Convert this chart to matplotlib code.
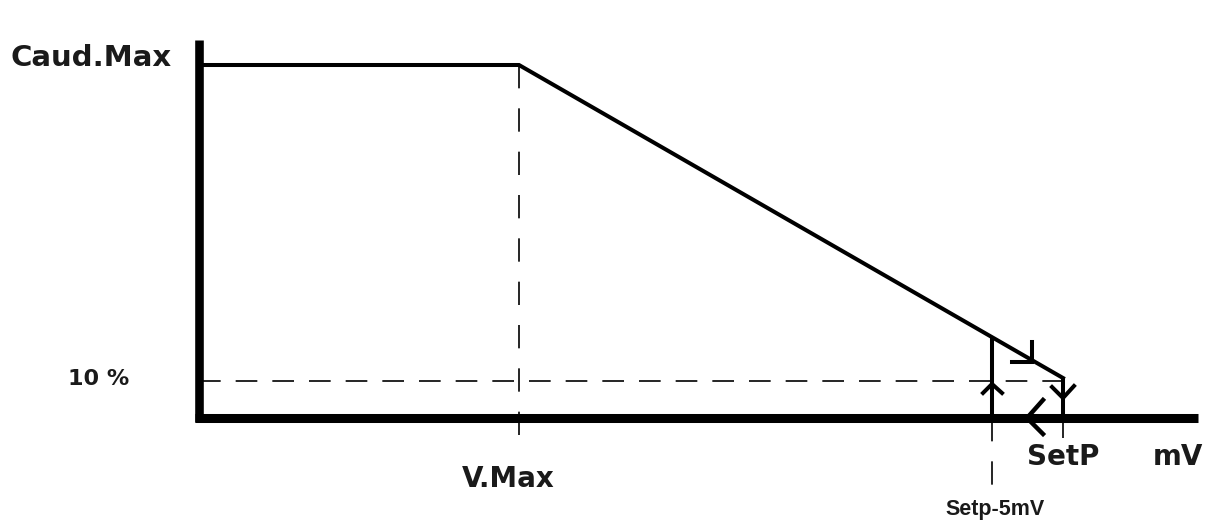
import matplotlib.pyplot as plt

# positions in picture units (x right, y down)
x_origin = 199
y_base = 418
y_axis_top = 40
x_axis_end = 1198

caud_max_y = 65
v_max_x = 519
ten_pct_y = 381
setp_x = 1063
setp5_x = 992

curve_x = [x_origin, v_max_x, setp_x]
curve_y = [caud_max_y, caud_max_y, 378]

labels = ["Caud.Max", "10 %", "V.Max", "SetP", "mV"]
label_x = [10, 68, 462, 1027, 1153]
label_y = [66, 385, 487, 465, 465]
label_size = [21, 16, 20, 20, 20]

fig = plt.figure(figsize=(12.05, 5.22), dpi=100)
ax = fig.add_axes([0, 0, 1, 1])
ax.set_xlim(0, 1205)
ax.set_ylim(522, 0)
ax.axis('off')

hdash = (0, (13, 9))
vdash = (0, (14, 12))

# dashed guides
ax.plot([v_max_x, v_max_x], [caud_max_y, 440], color='black', lw=1.2, linestyle=vdash)
ax.plot([x_origin, setp_x], [ten_pct_y, ten_pct_y], color='black', lw=1.2, linestyle=hdash)
ax.plot([setp5_x, setp5_x], [y_base, 495], color='black', lw=1.2, linestyle=vdash)
ax.plot([setp_x, setp_x], [y_base, 438], color='black', lw=1.2, linestyle=vdash)

# axes
ax.plot([x_origin, x_origin], [y_axis_top, y_base + 4], color='black', lw=6.2, solid_capstyle='butt')
ax.plot([x_origin - 4, x_axis_end], [y_base, y_base], color='black', lw=6.5, solid_capstyle='butt')

# curve
ax.plot(curve_x, curve_y, color='black', lw=2.9, solid_joinstyle='miter')

# hysteresis
ax.plot([setp5_x, setp5_x], [337, y_base], color='black', lw=2.9, solid_capstyle='butt')
ax.plot([setp_x, setp_x], [378, y_base], color='black', lw=2.9, solid_capstyle='butt')

# arrow strokes
ax.plot([1032, 1032, 1012], [342, 362, 362], color='black', lw=2.9, solid_joinstyle='miter')
ax.plot([983, setp5_x, 1002], [393, 384, 393], color='black', lw=2.9)
ax.plot([1052, setp_x, 1074], [387, 398, 386], color='black', lw=2.9)
ax.plot([1043, 1027, 1043], [400, y_base, 434], color='black', lw=3.2)

for t, x, y, s in zip(labels, label_x, label_y, label_size):
    ax.text(x, y, t, fontsize=s, fontweight='bold', family='DejaVu Sans',
            color='#1a1a1a', ha='left', va='baseline')

ax.text(945, 515, "Setp-5mV", fontsize=15.5, fontweight='bold', family='Liberation Sans',
        color='#1a1a1a', ha='left', va='baseline')

plt.savefig('out.png', dpi=100)
